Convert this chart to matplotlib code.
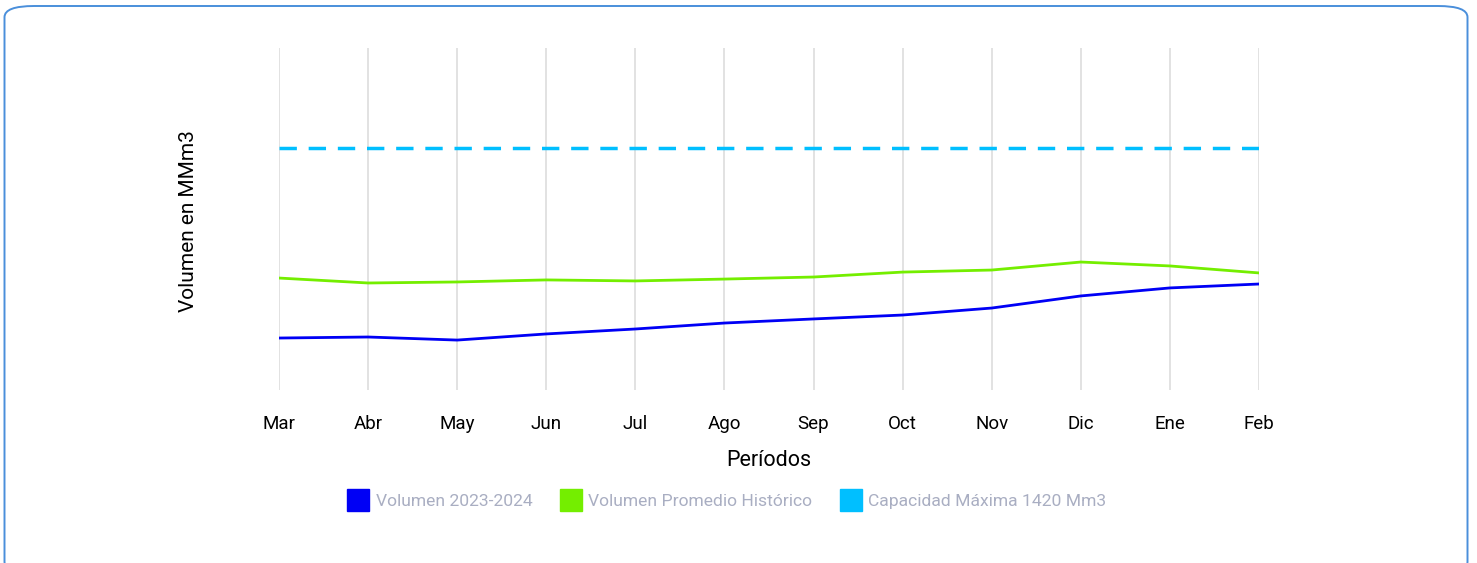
import matplotlib.pyplot as plt
from matplotlib.lines import Line2D
from matplotlib.patches import FancyBboxPatch

# ---- data ---------------------------------------------------------------
meses = ["Mar", "Abr", "May", "Jun", "Jul", "Ago",
         "Sep", "Oct", "Nov", "Dic", "Ene", "Feb"]
vol_2023_2024 = [305, 311, 293, 329, 358, 393, 417, 440, 481, 552, 599, 622]
vol_promedio = [657, 628, 634, 646, 640, 651, 663, 692, 704, 751, 728, 687]
capacidad_max = 1420

C_BLUE = "#0000F5"
C_GREEN = "#74EE00"
C_CYAN = "#00BFFF"
C_LEG = "#A9AEC2"

plt.rcParams["font.family"] = ["Roboto", "DejaVu Sans"]

fig = plt.figure(figsize=(14.77, 5.63), dpi=100)

# rounded card border
card = FancyBboxPatch((4.5 / 1477, -10 / 563), 1463 / 1477, 567 / 563,
                      boxstyle="round,pad=0,rounding_size=0.02",
                      transform=fig.transFigure, fc="none", ec="#4A8FDB", lw=1.4,
                      mutation_aspect=563 / 1477 * 2.6, zorder=-1)
fig.patches.append(card)

ax = fig.add_axes([279 / 1477, 1 - 390 / 563, 980 / 1477, 342 / 563])
ax.set_facecolor("none")

x = range(len(meses))
ax.plot(x, vol_2023_2024, color=C_BLUE, lw=2)
ax.plot(x, vol_promedio, color=C_GREEN, lw=2)
ax.plot(x, [capacidad_max] * len(meses), color=C_CYAN, lw=2.5, ls=(0, (5, 3.4)))

ax.set_xlim(0, len(meses) - 1)
ax.set_ylim(0, 2007)
ax.set_xticks(list(x))
ax.set_xticklabels(meses, fontsize=13.5)
ax.set_yticks([])
ax.tick_params(axis="x", length=0, pad=18)
ax.grid(axis="x", color="#DDDDDD", lw=1.2)
for s in ax.spines.values():
    s.set_visible(False)

ax.set_xlabel("Períodos", fontsize=15.5, labelpad=12)
fig.text(189 / 1477, 1 - 221 / 563, "Volumen en MMm3", rotation=90,
         ha="center", va="center", fontsize=15)

handles = [Line2D([], [], ls="none", marker="s", ms=16, mfc=c, mec=c)
           for c in (C_BLUE, C_GREEN, C_CYAN)]
labels = ["Volumen 2023-2024", "Volumen Promedio Histórico",
          "Capacidad Máxima 1420 Mm3"]
fig.legend(handles, labels, loc="center", bbox_to_anchor=(728 / 1477, 1 - 501 / 563),
           ncol=3, frameon=False, fontsize=12.6, labelcolor=C_LEG,
           handletextpad=0.5, columnspacing=1.7, handlelength=1.0)

fig.savefig("out.png", dpi=100)
